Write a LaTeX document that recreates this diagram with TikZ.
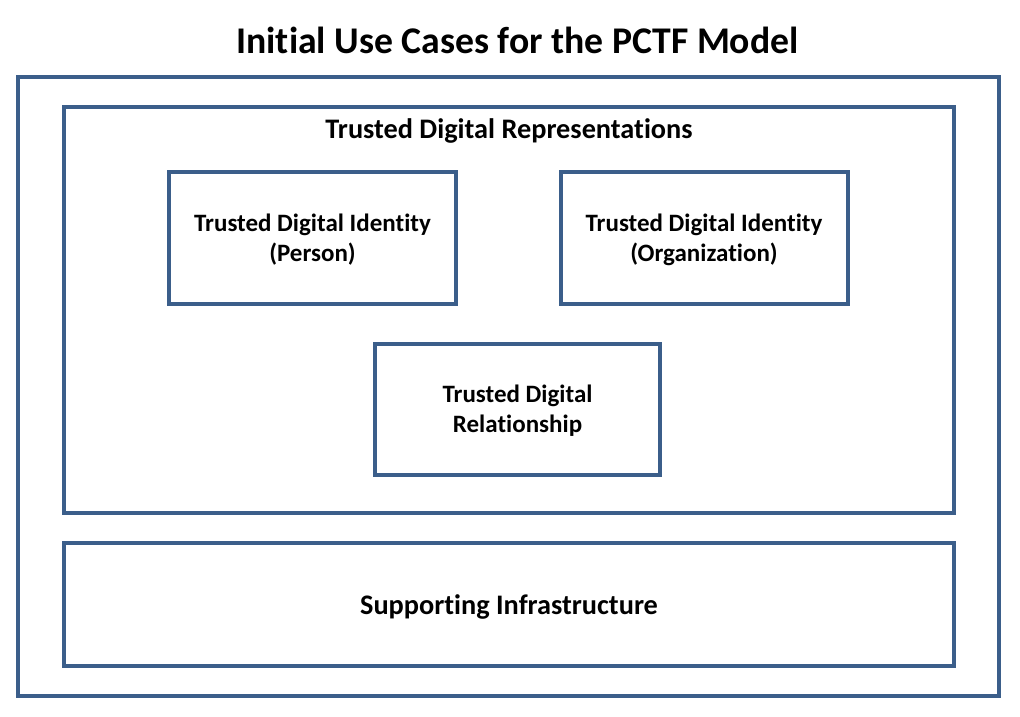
\documentclass[tikz,border=0pt]{standalone}
\usepackage{fontspec}
\setmainfont[Ligatures={NoCommon}]{Carlito}
\definecolor{boxblue}{RGB}{59,94,138}
\begin{document}
\begin{tikzpicture}[x=1pt,y=-1pt,
  frame/.style={draw=boxblue,line width=4pt},
  lbl/.style={font=\bfseries\fontsize{25}{30}\selectfont,align=center,inner sep=0pt},
  biglbl/.style={font=\bfseries\fontsize{28.3}{30}\selectfont,align=center,inner sep=0pt},
  ttl/.style={font=\bfseries\fontsize{37.7}{40}\selectfont,inner sep=0pt}]
\useasboundingbox (0,0) rectangle (1020,716);
\fill[white] (0,0) rectangle (1020,716);
\node[ttl] (title) at (517.5,40) {Initial Use Cases for the PCTF Model};
\draw[frame] (18,77) rectangle (999,696);
\draw[frame] (64,107) rectangle (954,513);
\node[biglbl] (tdr) at (509,131) {Trusted Digital Representations};
\draw[frame] (169,172) rectangle (456,304);
\node[lbl] (person) at (312.5,239.5) {Trusted Digital Identity\\(Person)};
\draw[frame] (561,172) rectangle (848,304);
\node[lbl] (org) at (704,239.5) {Trusted Digital Identity\\(Organization)};
\draw[frame] (375,344) rectangle (660,475);
\node[lbl] (rel) at (517.5,411) {Trusted Digital\\Relationship};
\draw[frame] (64,543) rectangle (954,666);
\node[biglbl] (sup) at (509,607) {Supporting Infrastructure};
\end{tikzpicture}
\end{document}
